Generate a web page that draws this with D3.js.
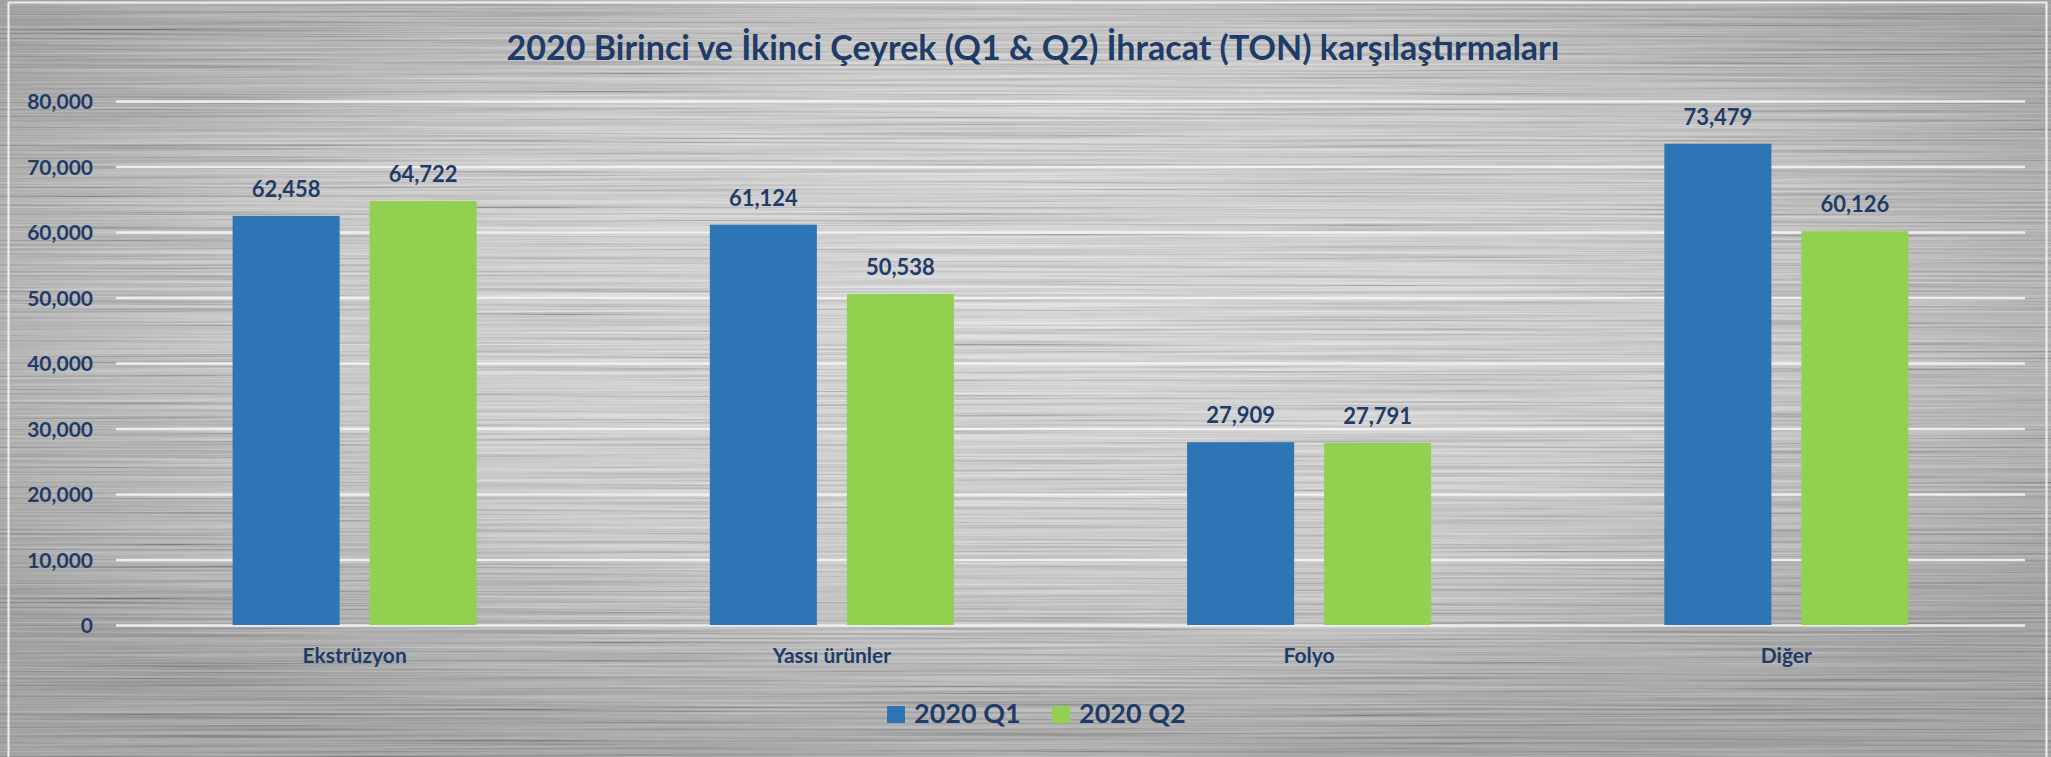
<html>
<head>
<meta charset="utf-8">
<style>
    body { margin: 0; background: #a6a6a6; }
    text { font-family: Lato, "Open Sans", sans-serif; font-weight: 700; fill: #1f3b68; }
    .grid line { stroke: #f4f4f4; stroke-width: 2.5; stroke-opacity: 0.9; }
    .grid .domain { display: none; }
</style>
<script src="https://cdn.jsdelivr.net/npm/d3@7"></script>
</head>
<body>
<script>

    // chart data
    var categories = ["Ekstrüzyon", "Yassı ürünler", "Folyo", "Diğer"];
    var seriesNames = ["2020 Q1", "2020 Q2"];
    var q1Values = [62458, 61124, 27909, 73479];
    var q2Values = [64722, 50538, 27791, 60126];
    var yTicks = [0, 10000, 20000, 30000, 40000, 50000, 60000, 70000, 80000];
    var colors = ["#2e75b6", "#92d050"];
    var title = "2020 Birinci ve İkinci Çeyrek (Q1 & Q2) İhracat (TON) karşılaştırmaları";

    var width = 2051, height = 757;
    var margin = {top: 101, bottom: 132, left: 116, right: 26};

    var svg = d3.select("body").append("svg")
        .attr("width", width)
        .attr("height", height);

    var defs = svg.append("defs");

    var grad = defs.append("radialGradient")
        .attr("id", "metal")
        .attr("cx", "50%").attr("cy", "42%").attr("r", "62%");
    grad.append("stop").attr("offset", "0%").attr("stop-color", "#e0e0e0");
    grad.append("stop").attr("offset", "55%").attr("stop-color", "#cfcfcf");
    grad.append("stop").attr("offset", "100%").attr("stop-color", "#989898");

    // brushed metal streaks
    var brush = defs.append("filter")
        .attr("id", "brush")
        .attr("x", 0).attr("y", 0).attr("width", "100%").attr("height", "100%");
    brush.append("feTurbulence")
        .attr("type", "fractalNoise")
        .attr("baseFrequency", "0.0025 0.45")
        .attr("numOctaves", 3)
        .attr("seed", 7);
    brush.append("feColorMatrix")
        .attr("type", "matrix")
        .attr("values", "1.4 0 0 0 -0.2  1.4 0 0 0 -0.2  1.4 0 0 0 -0.2  0 0 0 0 0.3");

    svg.append("rect")
        .attr("width", width).attr("height", height)
        .attr("fill", "url(#metal)");
    svg.append("rect")
        .attr("width", width).attr("height", height)
        .attr("filter", "url(#brush)");

    // thin frame
    svg.append("rect")
        .attr("x", 8.5).attr("y", 2.5)
        .attr("width", 2038).attr("height", 760)
        .attr("fill", "none")
        .attr("stroke", "#efefef")
        .attr("stroke-width", 2);

    var x0 = d3.scaleBand()
        .domain(categories)
        .range([margin.left, width - margin.right])
        .padding(0);

    var x1 = d3.scaleBand()
        .domain(seriesNames)
        .range([0, x0.bandwidth()])
        .paddingInner(0.219)
        .paddingOuter(0.851);

    var y = d3.scaleLinear()
        .domain([0, 80000])
        .range([height - margin.bottom, margin.top]);

    // y axis with gridlines
    svg.append("g")
        .attr("class", "grid")
        .attr("transform", "translate(" + margin.left + ",0)")
        .call(d3.axisLeft(y)
            .tickValues(yTicks)
            .tickFormat(d3.format(","))
            .tickSize(-(width - margin.left - margin.right))
            .tickPadding(23))
        .call(function (g) {
            g.selectAll("text")
                .attr("font-size", "21px")
                .attr("font-family", "Lato, sans-serif")
                .attr("fill", "#1f3b68")
                .attr("dy", "0.36em");
        });

    var rows = categories.map(function (c, i) {
        return {category: c, values: [q1Values[i], q2Values[i]]};
    });

    var groups = svg.append("g")
        .selectAll("g")
        .data(rows)
        .enter()
        .append("g")
        .attr("transform", function (d) { return "translate(" + x0(d.category) + ",0)"; });

    groups.selectAll("rect")
        .data(function (d) {
            return d.values.map(function (v, j) { return {key: seriesNames[j], value: v, idx: j}; });
        })
        .enter()
        .append("rect")
        .attr("x", function (d) { return x1(d.key); })
        .attr("y", function (d) { return y(d.value); })
        .attr("width", x1.bandwidth())
        .attr("height", function (d) { return y(0) - y(d.value); })
        .attr("fill", function (d) { return colors[d.idx]; });

    groups.selectAll("text.val")
        .data(function (d) {
            return d.values.map(function (v, j) { return {key: seriesNames[j], value: v}; });
        })
        .enter()
        .append("text")
        .attr("class", "val")
        .attr("x", function (d) { return x1(d.key) + x1.bandwidth() / 2; })
        .attr("y", function (d) { return y(d.value) - 19; })
        .attr("text-anchor", "middle")
        .attr("font-size", "22px")
        .text(function (d) { return d3.format(",")(d.value); });

    // category labels
    svg.append("g")
        .selectAll("text")
        .data(categories)
        .enter()
        .append("text")
        .attr("x", function (d) { return x0(d) + x0.bandwidth() / 2; })
        .attr("y", 663)
        .attr("text-anchor", "middle")
        .attr("font-size", "21px")
        .text(function (d) { return d; });

    // title
    svg.append("text")
        .attr("x", 1033)
        .attr("y", 60)
        .attr("text-anchor", "middle")
        .attr("font-size", "34px")
        .text(title);

    // legend
    var legendX = [887, 1052];
    var legend = svg.append("g")
        .selectAll("g")
        .data(seriesNames)
        .enter()
        .append("g")
        .attr("transform", function (d, i) { return "translate(" + legendX[i] + ",706)"; });

    legend.append("rect")
        .attr("width", 18)
        .attr("height", 17)
        .attr("fill", function (d, i) { return colors[i]; });

    legend.append("text")
        .attr("x", 27)
        .attr("y", 17)
        .attr("font-size", "27px")
        .text(function (d) { return d; });

</script>
</body>
</html>
